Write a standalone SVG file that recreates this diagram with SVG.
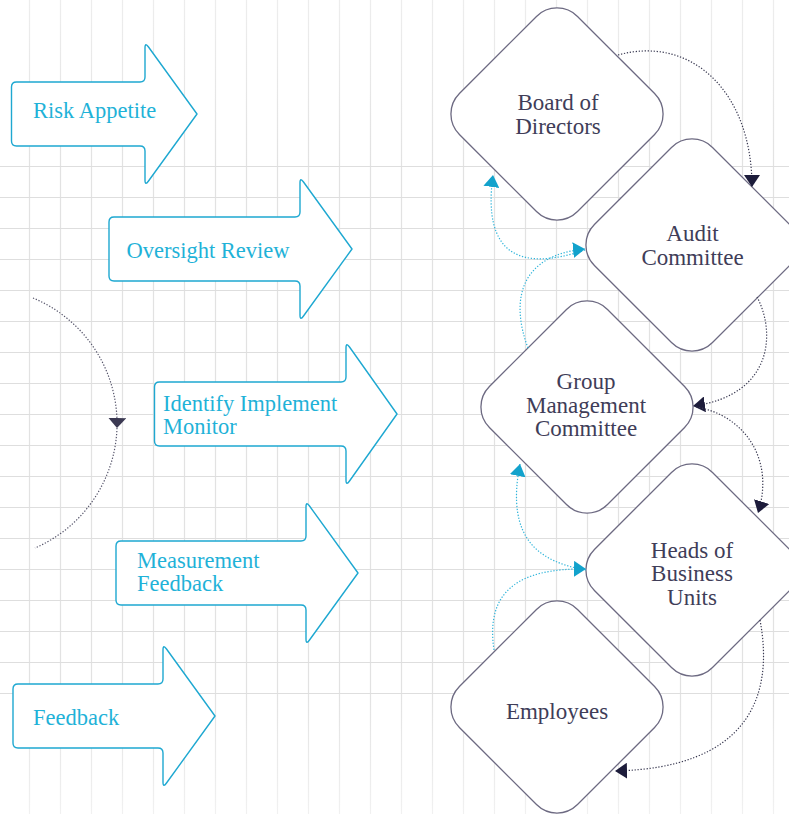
<svg xmlns="http://www.w3.org/2000/svg" width="789" height="814" viewBox="0 0 789 814">
<defs>
  <linearGradient id="vgrad" gradientUnits="userSpaceOnUse" x1="0" y1="0" x2="0" y2="814">
    <stop offset="0" stop-color="#ededed"/>
    <stop offset="0.2" stop-color="#e2e2e2"/>
    <stop offset="0.85" stop-color="#e2e2e2"/>
    <stop offset="1" stop-color="#f1f1f1"/>
  </linearGradient>
  <marker id="ah-dark" viewBox="0 0 12 16" refX="12" refY="8" markerWidth="12" markerHeight="16" markerUnits="userSpaceOnUse" orient="auto">
    <path d="M0,0 L12,8 L0,16 Z" fill="#1d1c3b"/>
  </marker>
  <marker id="ah-cyan" viewBox="0 0 12 16" refX="12" refY="8" markerWidth="12" markerHeight="16" markerUnits="userSpaceOnUse" orient="auto">
    <path d="M0,0 L12,8 L0,16 Z" fill="#12a2cc"/>
  </marker>
  <marker id="ah-slate" viewBox="0 0 10 18" refX="10" refY="9" markerWidth="10" markerHeight="18" markerUnits="userSpaceOnUse" orient="auto">
    <path d="M0,0 L10,9 L0,18 Z" fill="#3b3952"/>
  </marker>
  <style>
    .vgrid { stroke: url(#vgrad); stroke-width: 1.2; fill: none; }
    .hgrid { stroke: #dedede; stroke-width: 1.2; fill: none; }
    .blk { fill: #ffffff; stroke: #1ea8d1; stroke-width: 1.4; stroke-linejoin: round; }
    .blk-t { font-size: 22.5px; fill: #1fb2d8; }
    .dia { fill: #ffffff; stroke: #6d6a82; stroke-width: 1.3; }
    .dia-t { font-size: 23px; fill: #403d58; text-anchor: middle; }
    .c-dark { fill: none; stroke: #3a3a52; stroke-width: 1.2; stroke-dasharray: 1.3 1.7; }
    .c-cyan { fill: none; stroke: #2fb4da; stroke-width: 1.2; stroke-dasharray: 1.3 1.7; }
    .c-slate { fill: none; stroke: #55546a; stroke-width: 1.2; stroke-dasharray: 1.3 1.7; }
  </style>
</defs>
<rect x="0" y="0" width="789" height="814" fill="#ffffff"/>
<g id="grid">
  <path class="vgrid" d="M29.5,0V814M60.5,0V814M91.5,0V814M122.5,0V814M153.5,0V814M184.5,0V814M215.5,0V814M246.5,0V814M277.5,0V814M308.5,0V814M339.5,0V814M370.5,0V814M401.5,0V814M432.5,0V814M463.5,0V814M494.5,0V814M525.5,0V814M556.5,0V814M587.5,0V814M618.5,0V814M649.5,0V814M680.5,0V814M711.5,0V814M742.5,0V814M773.5,0V814"/>
  <path class="hgrid" d="M0,166.5H789M0,197.5H789M0,228.5H789M0,259.5H789M0,290.5H789M0,321.5H789M0,352.5H789M0,383.5H789M0,414.5H789M0,445.5H789M0,476.5H789M0,507.5H789M0,538.5H789M0,569.5H789M0,600.5H789M0,631.5H789M0,662.5H789M0,693.5H789"/>
</g>
<g id="cycle-arc">
  <path class="c-slate" d="M33,298 A136,136 0 0 1 117,428" marker-end="url(#ah-slate)"/>
  <path class="c-slate" d="M117,428 A136,136 0 0 1 35,548"/>
</g>
<g id="arrow-risk-appetite">
  <path class="blk" d="M11.5,87 Q11.5,82 16.5,82 H140 Q145,82 145,77 V48 Q145,42 148.5,47 L197,114 L148.5,181 Q145,186 145,180 V151 Q145,146 140,146 H16.5 Q11.5,146 11.5,141 Z"/>
  <text class="blk-t" font-family="Liberation Serif, serif" x="33" y="118">Risk Appetite</text>
</g>
<g id="arrow-oversight-review">
  <path class="blk" d="M109,222 Q109,217 114,217 H295 Q300,217 300,212 V183 Q300,177 303.5,182 L352,249 L303.5,316 Q300,321 300,315 V286 Q300,281 295,281 H114 Q109,281 109,276 Z"/>
  <text class="blk-t" font-family="Liberation Serif, serif" x="126.5" y="258">Oversight Review</text>
</g>
<g id="arrow-identify">
  <path class="blk" d="M154.5,387 Q154.5,382 159.5,382 H341 Q346,382 346,377 V348 Q346,342 349.5,347 L397,414 L349.5,481 Q346,486 346,480 V451 Q346,446 341,446 H159.5 Q154.5,446 154.5,441 Z"/>
  <text class="blk-t" font-family="Liberation Serif, serif" x="163" y="411">Identify Implement</text>
  <text class="blk-t" font-family="Liberation Serif, serif" x="163" y="434">Monitor</text>
</g>
<g id="arrow-measurement">
  <path class="blk" d="M116,546 Q116,541 121,541 H301 Q306,541 306,536 V507 Q306,501 309.5,506 L358,573 L309.5,640 Q306,645 306,639 V610 Q306,605 301,605 H121 Q116,605 116,600 Z"/>
  <text class="blk-t" font-family="Liberation Serif, serif" x="137" y="567.5">Measurement</text>
  <text class="blk-t" font-family="Liberation Serif, serif" x="137" y="591">Feedback</text>
</g>
<g id="arrow-feedback">
  <path class="blk" d="M13,689 Q13,684 18,684 H158 Q163,684 163,679 V650 Q163,644 166.5,649 L215,716 L166.5,783 Q163,788 163,782 V753 Q163,748 158,748 H18 Q13,748 13,743 Z"/>
  <text class="blk-t" font-family="Liberation Serif, serif" x="33" y="725">Feedback</text>
</g>
<g id="node-board">
  <rect class="dia" x="-83.5" y="-83.5" width="167" height="167" rx="29" transform="translate(557,114) rotate(45)"/>
  <text class="dia-t" font-family="Liberation Serif, serif" x="558" y="110">Board of</text>
  <text class="dia-t" font-family="Liberation Serif, serif" x="558" y="133.5">Directors</text>
</g>
<g id="node-audit">
  <rect class="dia" x="-83.5" y="-83.5" width="167" height="167" rx="29" transform="translate(692,245) rotate(45)"/>
  <text class="dia-t" font-family="Liberation Serif, serif" x="692.5" y="241">Audit</text>
  <text class="dia-t" font-family="Liberation Serif, serif" x="692.5" y="265">Committee</text>
</g>
<g id="node-group">
  <rect class="dia" x="-83.5" y="-83.5" width="167" height="167" rx="29" transform="translate(587,407) rotate(45)"/>
  <text class="dia-t" font-family="Liberation Serif, serif" x="586" y="388.5">Group</text>
  <text class="dia-t" font-family="Liberation Serif, serif" x="586" y="412.5">Management</text>
  <text class="dia-t" font-family="Liberation Serif, serif" x="586" y="436">Committee</text>
</g>
<g id="node-heads">
  <rect class="dia" x="-83.5" y="-83.5" width="167" height="167" rx="29" transform="translate(692,570) rotate(45)"/>
  <text class="dia-t" font-family="Liberation Serif, serif" x="692" y="557.5">Heads of</text>
  <text class="dia-t" font-family="Liberation Serif, serif" x="692" y="581">Business</text>
  <text class="dia-t" font-family="Liberation Serif, serif" x="692" y="604.5">Units</text>
</g>
<g id="node-employees">
  <rect class="dia" x="-83.5" y="-83.5" width="167" height="167" rx="29" transform="translate(557,707) rotate(45)"/>
  <text class="dia-t" font-family="Liberation Serif, serif" x="557" y="718.5">Employees</text>
</g>
<g id="connectors">
  <path class="c-dark" d="M618,55 C690,35 752,90 752,187" marker-end="url(#ah-dark)"/>
  <path class="c-dark" d="M757,297 C775,330 775,395 693,406" marker-end="url(#ah-dark)"/>
  <path class="c-dark" d="M696,407 C745,415 775,460 758,513" marker-end="url(#ah-dark)"/>
  <path class="c-dark" d="M760,620 C775,700 745,768 615,771" marker-end="url(#ah-dark)"/>
  <path class="c-cyan" d="M585,250 C520,272 482,255 493,175" marker-end="url(#ah-cyan)"/>
  <path class="c-cyan" d="M528,348 C510,300 520,255 585,249" marker-end="url(#ah-cyan)"/>
  <path class="c-cyan" d="M586,570 C540,562 505,540 520,464" marker-end="url(#ah-cyan)"/>
  <path class="c-cyan" d="M494,650 C485,590 520,568 586,569" marker-end="url(#ah-cyan)"/>
</g>
</svg>
